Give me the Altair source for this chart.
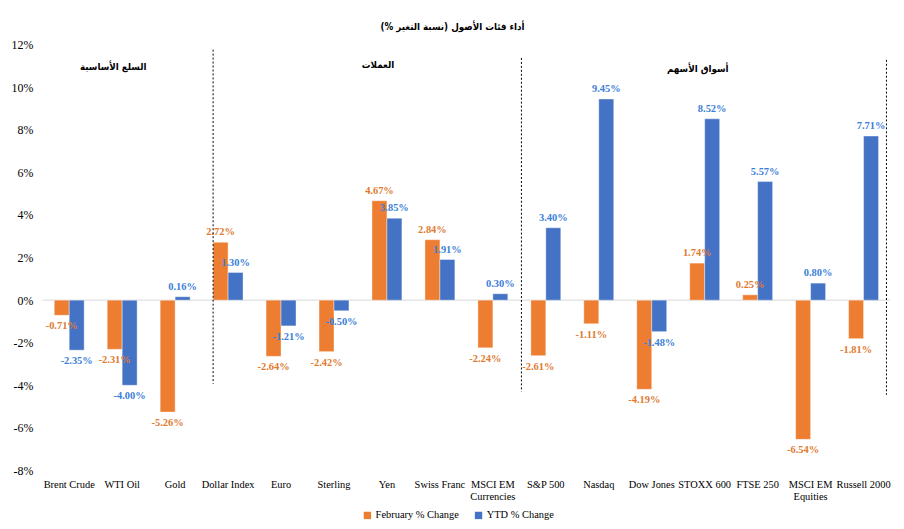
import altair as alt
import pandas as pd

categories = ["Brent Crude", "WTI Oil", "Gold", "Dollar Index", "Euro", "Sterling",
              "Yen", "Swiss Franc", "MSCI EM Currencies", "S&P 500", "Nasdaq",
              "Dow Jones", "STOXX 600", "FTSE 250", "MSCI EM Equities", "Russell 2000"]
feb_change = [-0.71, -2.31, -5.26, 2.72, -2.64, -2.42, 4.67, 2.84, -2.24,
              -2.61, -1.11, -4.19, 1.74, 0.25, -6.54, -1.81]
ytd_change = [-2.35, -4.00, 0.16, 1.30, -1.21, -0.50, 3.85, 1.91, 0.30,
              3.40, 9.45, -1.48, 8.52, 5.57, 0.80, 7.71]
series_names = ["February % Change", "YTD % Change"]
y_ticks = [-8, -6, -4, -2, 0, 2, 4, 6, 8, 10, 12]
title_text = "أداء فئات الأصول (نسبة التغير %)"
# (text, anchor category, dx, y value)
sections = [("السلع الأساسية", "WTI Oil", -9, 10.95),
            ("العملات", "Yen", -9, 11.05),
            ("أسواق الأسهم", "STOXX 600", -7, 10.85)]
# (category, band position, pixel nudge, top, bottom)
dividers = [("Dollar Index", 0.0, 0, 11.77, -3.93),
            ("S&P 500", 0.0, -9.5, 11.38, -4.3),
            ("Russell 2000", 1.0, 8, 11.29, -4.45)]

rows = []
for c, f, y in zip(categories, feb_change, ytd_change):
    rows.append({"cat": c, "series": series_names[0], "value": f, "label": f"{f:.2f}%"})
    rows.append({"cat": c, "series": series_names[1], "value": y, "label": f"{y:.2f}%"})
df = pd.DataFrame(rows)
one = pd.DataFrame({"k": [0]})

SERIF = "Liberation Serif"
AR = "DejaVu Sans Condensed, DejaVu Sans"
bar_colors = ["#ED7D31", "#4472C4"]
label_colors = ["#E07A30", "#3A80D8"]

x_scale = alt.Scale(paddingInner=0.435, paddingOuter=0.2175)
y_scale = alt.Scale(domain=[-8, 12], nice=False)

x_enc = alt.X("cat:N", sort=categories, scale=x_scale, title=None,
              axis=alt.Axis(labelAngle=0, labelFont=SERIF, labelFontSize=10.5, labelColor="#000",
                            domain=False, ticks=False, labelPadding=9,
                            labelExpr="datum.label == 'MSCI EM Currencies' ? ['MSCI EM','Currencies'] : datum.label == 'MSCI EM Equities' ? ['MSCI EM','Equities'] : datum.label"))
y_enc = alt.Y("value:Q", scale=y_scale, title=None,
              axis=alt.Axis(values=y_ticks, labelExpr="datum.value + '%'", grid=False, domain=False,
                            ticks=False, labelFont=SERIF, labelFontSize=12, labelColor="#000",
                            labelPadding=10))
xoff = alt.XOffset("series:N", sort=series_names)

base = alt.Chart(df)

zero = alt.Chart(one).mark_rule(color="#d9d9d9", strokeWidth=1).encode(y=alt.datum(0))

bars = base.mark_bar(stroke="white", strokeWidth=0.4).encode(
    x=x_enc, y=y_enc, xOffset=xoff,
    color=alt.Color("series:N", sort=series_names,
                    scale=alt.Scale(domain=series_names, range=bar_colors),
                    legend=alt.Legend(title=None, orient="none", direction="horizontal",
                                      legendX=322, legendY=469, symbolType="square",
                                      symbolSize=55, labelFont=SERIF, labelFontSize=10.5,
                                      labelOffset=3, labelColor="#000", columnPadding=14,
                                      symbolStrokeWidth=0)),
)

pos_labels = base.transform_filter("datum.value >= 0").mark_text(
    baseline="bottom", dy=-5, font=SERIF, fontSize=10.5, fontWeight="bold").encode(
    x=alt.X("cat:N", sort=categories, scale=x_scale), y=alt.Y("value:Q", scale=y_scale), xOffset=xoff, text="label:N",
    color=alt.Color("series:N", scale=alt.Scale(domain=series_names, range=label_colors), legend=None))
neg_labels = base.transform_filter("datum.value < 0").mark_text(
    baseline="top", dy=6, font=SERIF, fontSize=10.5, fontWeight="bold").encode(
    x=alt.X("cat:N", sort=categories, scale=x_scale), y=alt.Y("value:Q", scale=y_scale), xOffset=xoff, text="label:N",
    color=alt.Color("series:N", scale=alt.Scale(domain=series_names, range=label_colors), legend=None))

layers = [zero, bars, pos_labels, neg_labels]

for cat, bp, nudge, top, bottom in dividers:
    layers.append(alt.Chart(one).mark_rule(color="#000", strokeDash=[2, 2], strokeWidth=1, xOffset=nudge).encode(
        x=alt.XDatum(cat, bandPosition=bp), y=alt.datum(top), y2=alt.datum(bottom)))

for txt, cat, dx, yv in sections:
    layers.append(alt.Chart(one).mark_text(font=AR, fontSize=9.8, fontWeight="bold", color="#000", dx=dx).encode(
        x=alt.XDatum(cat), y=alt.datum(yv), text=alt.value(txt)))

chart = alt.layer(*layers).resolve_scale(color="independent").properties(
    width=854, height=429,
    padding={"left": 3, "top": 12, "right": 5, "bottom": 5},
    title=alt.TitleParams(title_text, font=AR, fontSize=9.8, fontWeight="bold", color="#000",
                          anchor="middle", offset=7, dx=-14),
).configure_view(stroke=None)

chart.save("out.html", embed_options={"renderer": "svg", "actions": False})
